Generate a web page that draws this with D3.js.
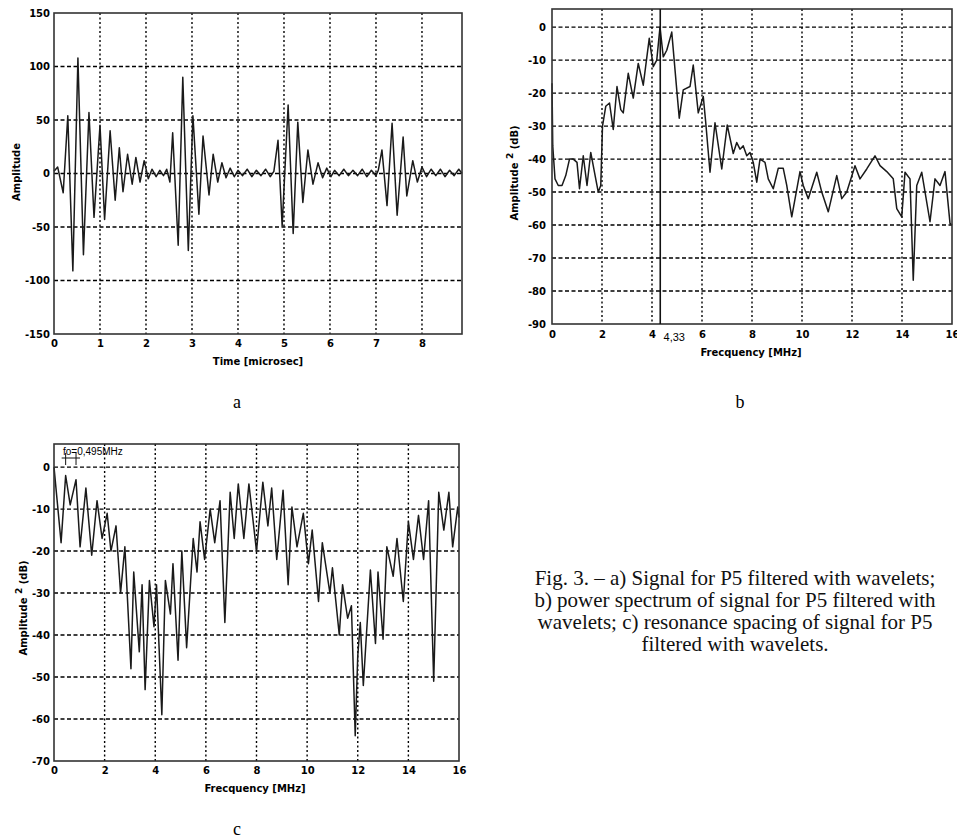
<!DOCTYPE html>
<html>
<meta charset="utf-8">
<script src="https://d3js.org/d3.v7.min.js"></script>
<style>
  body { margin: 0; background: #fff; }
</style>
<body>
<div id="vis"></div>
<script>

// ---- panel a : time signal ----
var timeA = [0, 0.08, 0.2, 0.3, 0.41, 0.52, 0.64, 0.76, 0.87, 1.0,
             1.1, 1.22, 1.33, 1.42, 1.5, 1.6, 1.7, 1.78, 1.87, 1.96,
             2.05, 2.13, 2.22, 2.3, 2.38, 2.45, 2.52, 2.58, 2.7, 2.8,
             2.92, 3.02, 3.15, 3.24, 3.37, 3.46, 3.56, 3.65, 3.74, 3.83,
             3.92, 4.0, 4.1, 4.2, 4.3, 4.4, 4.5, 4.6, 4.7, 4.78,
             4.87, 4.96, 5.09, 5.2, 5.3, 5.41, 5.52, 5.63, 5.74, 5.84,
             5.93, 6.02, 6.1, 6.2, 6.3, 6.4, 6.5, 6.6, 6.7, 6.8,
             6.9, 7.0, 7.05, 7.13, 7.24, 7.35, 7.46, 7.59, 7.67, 7.8,
             7.9, 8.0, 8.1, 8.2, 8.3, 8.4, 8.5, 8.6, 8.7, 8.8,
             8.87];
var ampA = [2, 6, -18, 54, -91, 108, -76, 57, -41, 45,
            -43, 40, -25, 24, -17, 18, -10, 15, -8, 12,
            -5, 4, -3, 3, -2, 4, -8, 38, -67, 90,
            -72, 54, -38, 35, -20, 18, -8, 10, -4, 5,
            -3, 3, -2, 4, -3, 3, -2, 4, -3, 2,
            31, -49, 64, -56, 48, -27, 22, -10, 10, -4,
            5, -3, 3, -2, 4, -2, 3, -2, 4, -3,
            3, -2, 3, 22, -30, 47, -39, 34, -21, 12,
            -8, 6, -3, 4, -2, 4, -3, 3, -2, 4,
            0];
var ticksAx = [0, 1, 2, 3, 4, 5, 6, 7, 8];
var ticksAy = [-150, -100, -50, 0, 50, 100, 150];

// ---- panel b : power spectrum ----
var freqB = [0, 0.03, 0.12, 0.25, 0.4, 0.55, 0.7, 0.85, 1.0, 1.1,
             1.25, 1.4, 1.55, 1.7, 1.85, 1.95, 2.02, 2.15, 2.3, 2.45,
             2.6, 2.75, 2.85, 3.05, 3.25, 3.45, 3.65, 3.89, 4.05, 4.19,
             4.32, 4.45, 4.59, 4.79, 4.99, 5.09, 5.25, 5.52, 5.65, 5.85,
             6.05, 6.15, 6.32, 6.52, 6.79, 7.01, 7.25, 7.39, 7.52, 7.65,
             7.79, 7.92, 8.05, 8.19, 8.32, 8.52, 8.65, 8.85, 9.05, 9.25,
             9.39, 9.59, 9.92, 10.05, 10.25, 10.59, 10.79, 11.05, 11.39, 11.59,
             11.79, 12.12, 12.32, 12.59, 12.92, 13.12, 13.39, 13.65, 13.79, 13.99,
             14.12, 14.32, 14.45, 14.59, 14.79, 15.12, 15.32, 15.52, 15.72, 15.92,
             16.0];
var powB = [-17, -36, -46, -48, -48, -45, -40, -40, -41, -49,
            -39, -48, -38, -44, -50, -48, -30, -24, -23, -31,
            -18, -25, -26, -14, -21.5, -11, -17.6, -3.4, -12, -10,
            0, -9, -7, -1.5, -19, -27.6, -19, -18, -11.5, -26,
            -21, -29, -44, -29, -43, -29.7, -38.3, -35, -37, -36,
            -39, -38, -41, -47, -40, -41, -46, -49, -42.8, -42.8,
            -48, -57.5, -43.8, -48, -52, -44, -50, -56, -45, -52,
            -50, -42, -46, -43, -39, -42, -43.8, -46, -55, -57.5,
            -44, -46, -76.7, -48, -44, -59, -46, -48, -43.8, -59.5,
            -60];
var ticksBx = [0, 2, 4, 6, 8, 10, 12, 14, 16];
var ticksBy = [-90, -80, -70, -60, -50, -40, -30, -20, -10, 0];
var peakB = 4.33;

// ---- panel c : resonance spacing ----
var freqC = [0, 0.14, 0.28, 0.46, 0.64, 0.87, 1.03, 1.26, 1.49, 1.7,
             1.9, 2.1, 2.25, 2.45, 2.63, 2.8, 3.04, 3.15, 3.37, 3.48,
             3.6, 3.77, 3.95, 4.05, 4.26, 4.4, 4.6, 4.7, 4.9, 5.05,
             5.24, 5.5, 5.65, 5.77, 5.95, 6.17, 6.35, 6.56, 6.75, 6.96,
             7.12, 7.28, 7.5, 7.7, 8.0, 8.25, 8.45, 8.6, 8.8, 9.05,
             9.25, 9.4, 9.6, 9.85, 10.05, 10.2, 10.45, 10.6, 10.9, 11.0,
             11.27, 11.4, 11.6, 11.75, 11.9, 12.0, 12.1, 12.22, 12.5, 12.7,
             12.8, 13.0, 13.15, 13.4, 13.55, 13.8, 14.0, 14.2, 14.4, 14.6,
             14.8, 15.0, 15.2, 15.4, 15.6, 15.75, 15.95, 16.0];
var resC = [0, -9, -18, -2, -9, -3, -19, -5, -21, -8,
            -17, -11, -20, -14, -30, -19, -48, -25, -44, -28,
            -53, -27, -38, -28, -59, -27, -35, -23, -46, -20,
            -43, -17, -25, -13, -22, -10, -18, -8, -37, -6,
            -17, -4, -17, -4, -20, -3.6, -14, -5, -22, -5.5,
            -28, -9.5, -19, -11, -23, -15, -32, -18, -30, -24,
            -40, -28, -36, -33, -64, -45, -37, -52, -24.5, -42,
            -25, -41, -19, -26, -17, -32, -13, -22, -11.5, -22,
            -8, -51, -6, -15, -6, -19, -9.5, -12];
var ticksCx = [0, 2, 4, 6, 8, 10, 12, 14, 16];
var ticksCy = [-70, -60, -50, -40, -30, -20, -10, 0];
var foPeaks = [0.46, 0.87];

var captionLines = [
  "Fig. 3. \u2013 a) Signal for P5 filtered with wavelets;",
  "b) power spectrum of signal for P5 filtered with",
  "wavelets; c) resonance spacing of signal for P5",
  "filtered with wavelets."
];

var svg = d3.select("#vis")
  .append("svg")
    .attr("width", 957)
    .attr("height", 839);

var tickFont = "'DejaVu Sans', sans-serif";

function drawPanel(p) {
  var x = d3.scaleLinear().domain(p.xDomain).range([p.left, p.right]);
  var y = d3.scaleLinear().domain(p.yDomain).range([p.bottom, p.top]);
  var g = svg.append("g");

  // grid: dotted verticals, dashed horizontals
  g.selectAll(".vgrid")
    .data(p.xTicks.filter(function(d) { return x(d) > p.left + 1 && x(d) < p.right - 1; }))
    .join("line")
      .attr("x1", function(d) { return x(d); })
      .attr("x2", function(d) { return x(d); })
      .attr("y1", p.top)
      .attr("y2", p.bottom)
      .attr("stroke", "#000")
      .attr("stroke-width", 1.4)
      .attr("stroke-dasharray", "2,2.5");
  g.selectAll(".hgrid")
    .data(p.yTicks.filter(function(d) { return y(d) > p.top + 1 && y(d) < p.bottom - 1; }))
    .join("line")
      .attr("x1", p.left)
      .attr("x2", p.right)
      .attr("y1", function(d) { return y(d); })
      .attr("y2", function(d) { return y(d); })
      .attr("stroke", "#000")
      .attr("stroke-width", 1.4)
      .attr("stroke-dasharray", "4,2.5");

  // trace
  var line = d3.line()
    .x(function(d) { return x(d[0]); })
    .y(function(d) { return y(d[1]); });
  g.append("path")
    .datum(d3.zip(p.xs, p.ys))
    .attr("d", line)
    .attr("fill", "none")
    .attr("stroke", "#1a1a1a")
    .attr("stroke-width", 1.5)
    .attr("stroke-linejoin", "round");

  // axes
  var ax = g.append("g")
    .attr("transform", "translate(0," + p.bottom + ")")
    .call(d3.axisBottom(x).tickValues(p.xTicks).tickSize(0).tickPadding(p.xPad)
      .tickFormat(function(d) { return String(d); }));
  ax.select(".domain").remove();
  var ay = g.append("g")
    .attr("transform", "translate(" + p.left + ",0)")
    .call(d3.axisLeft(y).tickValues(p.yTicks).tickSize(0).tickPadding(p.yPad)
      .tickFormat(function(d) { return String(d); }));
  ay.select(".domain").remove();
  [ax, ay].forEach(function(a) {
    a.attr("font-family", tickFont).attr("font-size", 10).attr("font-weight", "bold");
  });

  // box
  g.append("rect")
    .attr("x", p.left)
    .attr("y", p.top)
    .attr("width", p.right - p.left)
    .attr("height", p.bottom - p.top)
    .attr("fill", "none")
    .attr("stroke", "#333")
    .attr("stroke-width", 1.6);

  return {x: x, y: y, g: g};
}

function yLabel(cx, cy, sup) {
  var t = svg.append("text")
    .attr("transform", "translate(" + cx + "," + cy + ") rotate(-90)")
    .attr("text-anchor", "middle")
    .attr("font-family", tickFont)
    .attr("font-size", 10)
    .attr("font-weight", "bold");
  if (sup) {
    t.append("tspan").text("Amplitude ");
    t.append("tspan").attr("dy", -5).attr("font-size", 9).text("2");
    t.append("tspan").attr("dy", 5).text("  (dB)");
  } else {
    t.text("Amplitude");
  }
}

function xLabel(cx, by, txt) {
  svg.append("text")
    .attr("x", cx)
    .attr("y", by)
    .attr("text-anchor", "middle")
    .attr("font-family", tickFont)
    .attr("font-size", 10)
    .attr("font-weight", "bold")
    .text(txt);
}

function letter(cx, by, txt) {
  svg.append("text")
    .attr("x", cx)
    .attr("y", by)
    .attr("text-anchor", "middle")
    .attr("font-family", "'Liberation Serif', serif")
    .attr("font-size", 18)
    .text(txt);
}

// panel a
drawPanel({
  left: 54, right: 462, top: 13, bottom: 334,
  xDomain: [0, 8.87], yDomain: [-150, 150],
  xTicks: ticksAx, yTicks: ticksAy, xPad: 6, yPad: 4,
  xs: timeA, ys: ampA
});
yLabel(20, 172, false);
xLabel(258, 365, "Time [microsec]");
letter(237, 408, "a");

// panel b
var pb = drawPanel({
  left: 552, right: 952, top: 9, bottom: 324,
  xDomain: [0, 16], yDomain: [-90, 5.5],
  xTicks: ticksBx, yTicks: ticksBy, xPad: 7, yPad: 6,
  xs: freqB, ys: powB
});
pb.g.append("line")
  .attr("x1", pb.x(peakB)).attr("x2", pb.x(peakB))
  .attr("y1", pb.y(5.5)).attr("y2", pb.y(-90))
  .attr("stroke", "#111")
  .attr("stroke-width", 1.6);
pb.g.append("text")
  .attr("x", pb.x(peakB) + 14)
  .attr("y", 341)
  .attr("text-anchor", "middle")
  .attr("font-family", "'Liberation Sans', sans-serif")
  .attr("font-size", 11)
  .text(String(peakB).replace(".", ","));
yLabel(518, 173, true);
xLabel(751, 356, "Frecquency [MHz]");
letter(740, 408, "b");

// panel c
var pc = drawPanel({
  left: 54, right: 459, top: 444, bottom: 761,
  xDomain: [0, 16], yDomain: [-70, 5.5],
  xTicks: ticksCx, yTicks: ticksCy, xPad: 6, yPad: 4,
  xs: freqC, ys: resC
});
// fo marker
var foY = 458;
pc.g.append("line")
  .attr("x1", pc.x(foPeaks[0]) - 4).attr("x2", pc.x(foPeaks[1]) + 4)
  .attr("y1", foY).attr("y2", foY)
  .attr("stroke", "#111").attr("stroke-width", 1);
pc.g.selectAll(".fotick")
  .data(foPeaks)
  .join("line")
    .attr("x1", function(d) { return pc.x(d); })
    .attr("x2", function(d) { return pc.x(d); })
    .attr("y1", foY - 5)
    .attr("y2", foY + 7)
    .attr("stroke", "#111")
    .attr("stroke-width", 1);
pc.g.append("text")
  .attr("x", 63)
  .attr("y", 455)
  .attr("font-family", "'Liberation Sans', sans-serif")
  .attr("font-size", 10)
  .text("fo=0,495MHz");
yLabel(27, 608, true);
xLabel(255, 792, "Frecquency [MHz]");
letter(237, 835, "c");

// caption
svg.append("g")
  .selectAll("text")
  .data(captionLines)
  .join("text")
    .attr("x", 735)
    .attr("y", function(d, i) { return 585 + i * 22; })
    .attr("text-anchor", "middle")
    .attr("font-family", "'Liberation Serif', serif")
    .attr("font-size", 21)
    .attr("fill", "#111")
    .text(function(d) { return d; });

</script>
</body>
</html>
